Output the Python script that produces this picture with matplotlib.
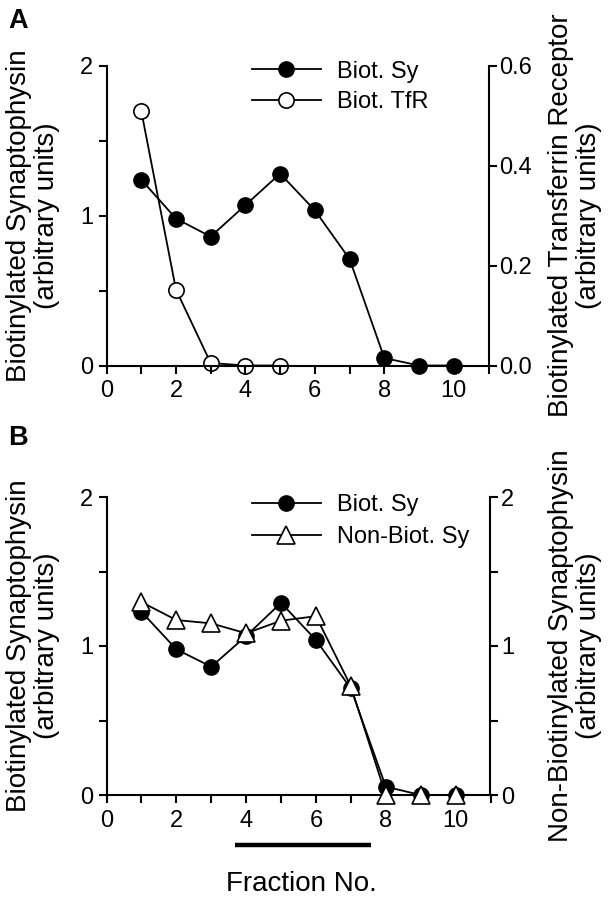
import matplotlib
matplotlib.use("Agg")
import matplotlib.pyplot as plt
from matplotlib.ticker import MultipleLocator, FixedLocator

plt.rcParams['font.family'] = ['Liberation Sans', 'DejaVu Sans']

# ---------------- data ----------------
fractions = [1, 2, 3, 4, 5, 6, 7, 8, 9, 10]
biot_sy_a = [1.24, 0.98, 0.86, 1.07, 1.28, 1.035, 0.71, 0.05, 0.0, 0.0]
tfr_fractions = [1, 2, 3, 4, 5]
biot_tfr_a = [0.51, 0.152, 0.005, 0.0, 0.0]

biot_sy_b = [1.23, 0.978, 0.861, 1.067, 1.29, 1.04, 0.715, 0.056, 0.0, 0.0]
nonbiot_sy_b = [1.295, 1.174, 1.152, 1.085, 1.17, 1.2, 0.73, 0.0, 0.0, 0.0]

x_ticks = [0, 2, 4, 6, 8, 10]
left_ticks = [0, 1, 2]
right_ticks_a = [0.0, 0.2, 0.4, 0.6]
right_ticks_b = [0, 1, 2]
bar_range = [3.69, 7.57]

# ---------------- figure ----------------
W, H = 608, 900
fig = plt.figure(figsize=(W / 100, H / 100), dpi=100)


def make_axes(left_px, right_px, top_px, bottom_px):
    return fig.add_axes([left_px / W, 1 - bottom_px / H,
                         (right_px - left_px) / W, (bottom_px - top_px) / H])


TICK_FS = 17
LABEL_FS = 20
LEG_FS = 17
LW_SPINE = 1.5
LW_DATA = 1.3
MS = 11


def style(ax, twin, right_ticks, right_minor, right_fmt):
    ax.set_xlim(0, 11)
    ax.set_ylim(0, 2)
    twin.set_xlim(0, 11)
    for a in (ax, twin):
        a.spines['top'].set_visible(False)
        for s in ('left', 'right', 'bottom'):
            a.spines[s].set_linewidth(LW_SPINE)
    twin.spines['left'].set_visible(False)
    twin.spines['bottom'].set_visible(False)
    ax.spines['right'].set_visible(False)
    ax.xaxis.set_major_locator(FixedLocator(x_ticks))
    ax.xaxis.set_minor_locator(MultipleLocator(1))
    ax.yaxis.set_major_locator(FixedLocator(left_ticks))
    ax.yaxis.set_minor_locator(MultipleLocator(0.5))
    ax.tick_params(axis='both', which='both', direction='out', width=LW_SPINE,
                   length=5.5, labelsize=TICK_FS)
    ax.tick_params(axis='x', which='major', pad=5)
    ax.tick_params(axis='y', which='major', pad=4)
    twin.yaxis.set_major_locator(FixedLocator(right_ticks))
    if right_minor:
        twin.yaxis.set_minor_locator(MultipleLocator(right_minor))
    else:
        twin.yaxis.set_minor_locator(FixedLocator([]))
    twin.yaxis.set_major_formatter(right_fmt)
    twin.tick_params(axis='y', which='both', direction='out', width=LW_SPINE,
                     length=5.5, labelsize=TICK_FS, pad=2)


# ---------------- panel A ----------------
axA = make_axes(106.5, 488.5, 65.7, 365.5)
twA = axA.twinx()
twA.set_ylim(0, 0.6)
style(axA, twA, right_ticks_a, None, lambda v, p: f"{v:.1f}")

l_sy, = axA.plot(fractions, biot_sy_a, color='black', lw=LW_DATA, marker='o',
                 ms=MS, mfc='black', mec='black', zorder=3, clip_on=False)
l_tfr, = twA.plot(tfr_fractions, biot_tfr_a, color='black', lw=LW_DATA, marker='o',
                  ms=MS, mfc='white', mec='black', mew=1.2, zorder=3, clip_on=False)
axA.set_zorder(twA.get_zorder() + 1)
axA.patch.set_visible(False)

axA.legend([l_sy, l_tfr], ['Biot. Sy', 'Biot. TfR'], loc='upper left',
           bbox_to_anchor=(0.381, 1.017), frameon=False, fontsize=LEG_FS,
           handlelength=2.9, handletextpad=0.7, labelspacing=0.35,
           borderpad=0, borderaxespad=0, numpoints=1)

fig.text(33 / W, 1 - 215.5 / H, 'Biotinylated Synaptophysin\n(arbitrary units)',
         rotation=90, ha='center', va='center', multialignment='center',
         fontsize=LABEL_FS, linespacing=1.1)
fig.text(575 / W, 1 - 215.5 / H, 'Biotinylated Transferrin Receptor\n(arbitrary units)',
         rotation=90, ha='center', va='center', multialignment='center',
         fontsize=LABEL_FS, linespacing=1.1)
fig.text(8 / W, 1 - 27.5 / H, 'A', fontsize=19.5, fontweight='bold', ha='left', va='baseline')

# ---------------- panel B ----------------
axB = make_axes(106.5, 490.5, 497.0, 795.0)
twB = axB.twinx()
twB.set_ylim(0, 2)
style(axB, twB, right_ticks_b, 0.5, lambda v, p: f"{v:g}")

m_sy, = axB.plot(fractions, biot_sy_b, color='black', lw=LW_DATA, marker='o',
                 ms=MS, mfc='black', mec='black', zorder=3, clip_on=False)
m_non, = twB.plot(fractions, nonbiot_sy_b, color='black', lw=LW_DATA, marker='^',
                  ms=MS + 2, mfc='white', mec='black', mew=1.2, zorder=3, clip_on=False)

axB.legend([m_sy, m_non], ['Biot. Sy', 'Non-Biot. Sy'], loc='upper left',
           bbox_to_anchor=(0.379, 1.01), frameon=False, fontsize=LEG_FS,
           handlelength=2.9, handletextpad=0.7, labelspacing=0.42,
           borderpad=0, borderaxespad=0, numpoints=1)

fig.text(33 / W, 1 - 646 / H, 'Biotinylated Synaptophysin\n(arbitrary units)',
         rotation=90, ha='center', va='center', multialignment='center',
         fontsize=LABEL_FS, linespacing=1.1)
fig.text(575 / W, 1 - 646 / H, 'Non-Biotinylated Synaptophysin\n(arbitrary units)',
         rotation=90, ha='center', va='center', multialignment='center',
         fontsize=LABEL_FS, linespacing=1.1)
fig.text(8 / W, 1 - 445 / H, 'B', fontsize=19.5, fontweight='bold', ha='left', va='baseline')

# fraction bar under the axis
bar_y = -(845 - 795) / ((795 - 497) / 2)
axB.plot(bar_range, [bar_y, bar_y], color='black', lw=3.2, solid_capstyle='butt',
         clip_on=False)

fig.text(301 / W, 1 - 884 / H, 'Fraction No.', fontsize=LABEL_FS, ha='center', va='center')

fig.savefig('out.png', dpi=100)
